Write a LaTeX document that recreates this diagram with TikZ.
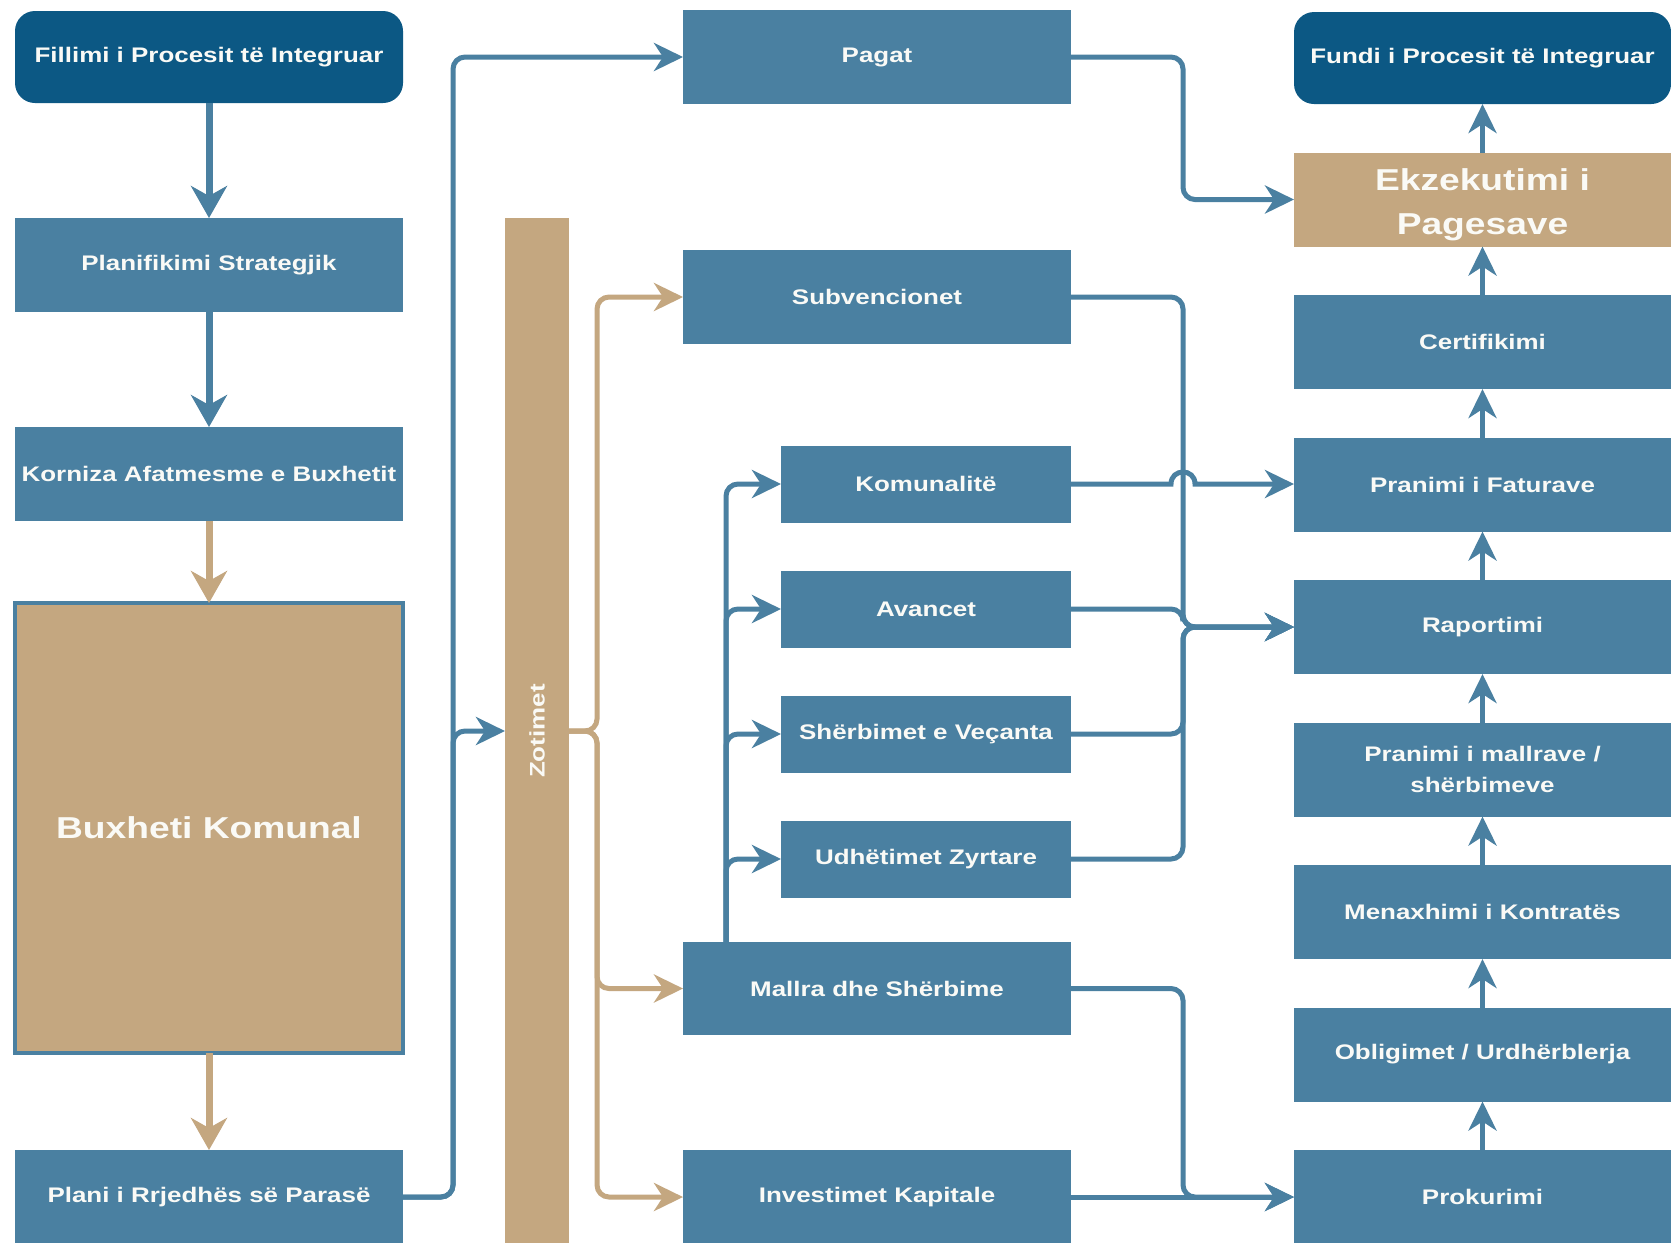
\documentclass[tikz,border=0pt]{standalone}
\usepackage{fontspec}
\setmainfont{Liberation Sans}[FakeStretch=1.23]
\usetikzlibrary{arrows.meta, positioning, calc}
\definecolor{procblue}{RGB}{12,88,132}
\definecolor{stepblue}{RGB}{74,128,161}
\definecolor{budgettan}{RGB}{196,167,128}
\definecolor{labelwhite}{RGB}{250,250,246}

\begin{document}
\begin{tikzpicture}[x=0.1mm, y=-0.1mm,
  box/.style={fill=#1, text=labelwhite, font=\bfseries\fontsize{6}{8.8}\selectfont, align=center, inner sep=0pt, outer sep=0pt, minimum width=38.8mm, minimum height=9.4mm},
  box/.default=stepblue,
  endbox/.style={box=procblue, rounded corners=2mm, minimum height=9.2mm},
  bigbox/.style={box=budgettan, font=\bfseries\fontsize{8.6}{12.6}\selectfont},
  arr/.style={-{Stealth[length=2.9mm, width=2.8mm, inset=0.9mm]}, line width=0.5mm, draw=stepblue, rounded corners=1.2mm},
  tarr/.style={arr, draw=budgettan},
  flow/.style={-{Stealth[length=3.2mm, width=3.6mm, inset=1mm]}, line width=0.7mm, draw=#1},
]
\path[use as bounding box, fill=white] (0,0) rectangle (1671,1242);

% Left column
\node[endbox] (start) at (209,57) {Fillimi i Procesit të Integruar};
\node[box, below=11.5mm of start] (strat) {Planifikimi Strategjik};
\node[box, below=11.5mm of strat] (kaf) {Korniza Afatmesme e Buxhetit};
\node[bigbox, draw=stepblue, line width=0.4mm, minimum width=38.8mm, minimum height=45mm, below=8.2mm of kaf] (budget) {Buxheti Komunal};
\node[box, below=9.7mm of budget] (cash) {Plani i Rrjedhës së Parasë};

% Zotimet bar
\node[box=budgettan, minimum width=6.4mm, minimum height=102.6mm] (zot) at (537,731) {};
\node[rotate=90, text=labelwhite, font=\bfseries\fontsize{6}{8.8}\selectfont] at (zot) {Zotimet};

% Middle column
\node[box] (wages) at (877,57) {Pagat};
\node[box] (subs) at (877,297) {Subvencionet};
\node[box, minimum width=29mm, minimum height=7.7mm] (util) at (926,484) {Komunalitë};
\node[box, minimum width=29mm, minimum height=7.7mm, below=4.8mm of util] (adv) {Avancet};
\node[box, minimum width=29mm, minimum height=7.7mm, below=4.8mm of adv] (spec) {Shërbimet e Veçanta};
\node[box, minimum width=29mm, minimum height=7.7mm, below=4.8mm of spec] (travel) {Udhëtimet Zyrtare};
\node[box, minimum height=9.3mm] (goods) at (877,988.5) {Mallra dhe Shërbime};
\node[box] (capex) at (877,1197) {Investimet Kapitale};

% Right column (bottom up)
\node[box, minimum width=37.7mm] (proc) at (1482.5,1197) {Prokurimi};
\node[box, minimum width=37.7mm, above=4.85mm of proc] (oblig) {Obligimet / Urdhërblerja};
\node[box, minimum width=37.7mm, above=4.85mm of oblig] (contr) {Menaxhimi i Kontratës};
\node[box, minimum width=37.7mm, above=4.85mm of contr] (recv) {Pranimi i mallrave /\\ shërbimeve};
\node[box, minimum width=37.7mm, above=4.85mm of recv] (report) {Raportimi};
\node[box, minimum width=37.7mm, above=4.85mm of report] (inv) {Pranimi i Faturave};
\node[box, minimum width=37.7mm, above=4.85mm of inv] (cert) {Certifikimi};
\node[bigbox, minimum width=37.7mm, above=4.85mm of cert] (exec) {\rule{0pt}{3.3mm}Ekzekutimi i\\ Pagesave};
\node[endbox, minimum width=37.7mm, above=4.85mm of exec] (finish) {Fundi i Procesit të Integruar};

% Left column flow
\draw[flow=stepblue] (start) -- (strat);
\draw[flow=stepblue] (strat) -- (kaf);
\draw[flow=budgettan] (kaf) -- (budget);
\draw[flow=budgettan] (budget) -- (cash);

% Cash plan to wages and commitments
\coordinate (lbus) at (453,0);
\draw[arr] (cash.east) -| (lbus |- wages.west) -- (wages.west);
\draw[arr] (cash.east) -| (lbus |- zot.west) -- (zot.west);

% Commitments brace
\coordinate (zbus) at (597,0);
\foreach \t in {subs, goods, capex}
  \draw[tarr] (zot.east) -| (zbus |- \t.west) -- (\t.west);

% Goods and services split
\coordinate (gbus) at (726,0);
\foreach \t in {util, adv, spec, travel}
  \draw[arr] (gbus |- goods.north) |- (\t.west);

% Links to the right column
\coordinate (rbus) at (1183,0);
\draw[arr] (wages.east) -| (rbus |- exec.west) -- (exec.west);
\foreach \s in {subs, adv, spec, travel}
  \draw[arr] (\s.east) -| (rbus |- report.west) -- (report.west);
\draw[arr, sharp corners] (util.east) -- ($(rbus |- util.east)+(-12,0)$)
  .. controls +(0,-16) and +(0,-16) .. ($(rbus |- util.east)+(12,0)$) -- (util.east -| inv.west);
\draw[arr] (goods.east) -| (rbus |- proc.west) -- (proc.west);
\draw[arr] (capex.east) -- (proc.west);

% Right column flow
\foreach \a/\b in {proc/oblig, oblig/contr, contr/recv, recv/report, report/inv, inv/cert, cert/exec, exec/finish}
  \draw[arr] (\a) -- (\b);
\end{tikzpicture}
\end{document}
